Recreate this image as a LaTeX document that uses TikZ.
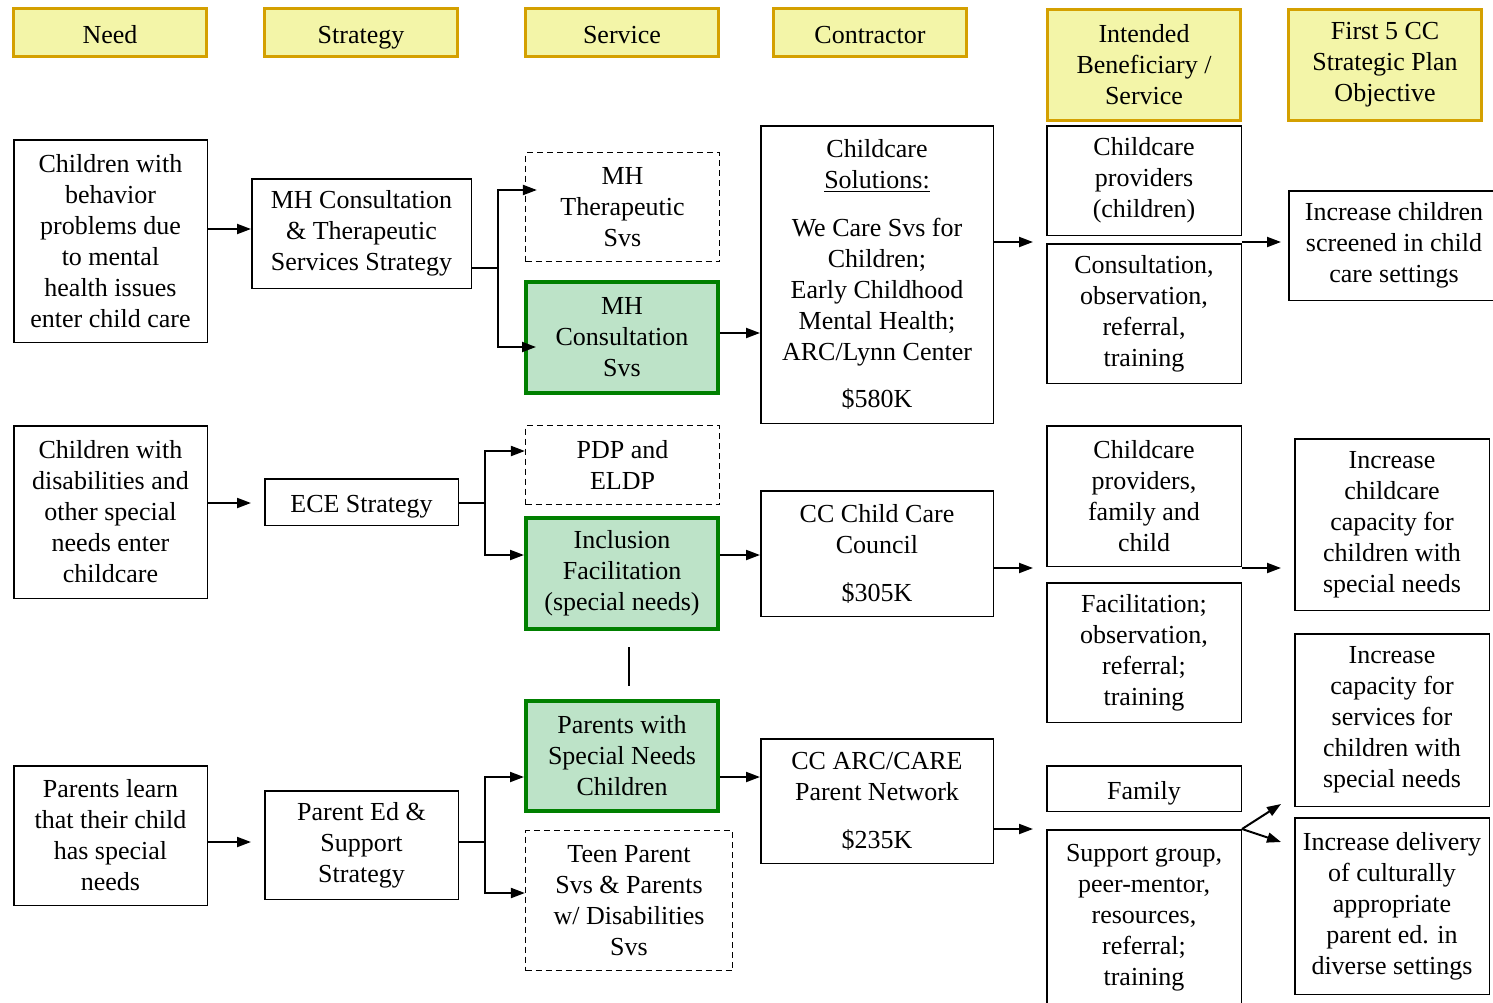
\documentclass[tikz,border=0pt]{standalone}
\usepackage{fontspec}
\setmainfont{Liberation Serif}
\usetikzlibrary{arrows.meta}

\definecolor{headfill}{RGB}{243,245,168}
\definecolor{headline}{RGB}{212,160,0}
\definecolor{svcfill}{RGB}{189,227,200}
\definecolor{svcline}{RGB}{0,128,0}
\newcommand{\boxfont}{\fontsize{13}{15.5}\selectfont}

\tikzset{
  base/.style={align=center, inner sep=0pt, font=\boxfont},
  oneline/.style={text height=10.5pt, text depth=0pt},
  head/.style={base, draw=headline, fill=headfill, line width=1.5pt, minimum width=96.5pt},
  plain/.style={base, draw, line width=0.75pt},
  dashbox/.style={base, draw, line width=0.6pt, dash pattern=on 3pt off 2pt},
  greenbox/.style={base, draw=svcline, fill=svcfill, line width=2pt, minimum width=96pt},
  link/.style={line width=1pt},
  arr/.style={line width=1pt, -{Triangle[length=7pt,width=5pt]}},
}

\begin{document}
\begin{tikzpicture}[x=0.5pt,y=-0.5pt]
\useasboundingbox (0,0) rectangle (1493,1002);

% column headers
\node[head, oneline, minimum height=24pt] (hneed) at (110,32.5) {Need};
\node[head, oneline, minimum height=24pt] (hstrat) at (361,32.5) {Strategy};
\node[head, oneline, minimum height=24pt] (hsvc) at (622,32.5) {Service};
\node[head, oneline, minimum height=24pt] (hcon) at (870,32.5) {Contractor};
\node[head, minimum height=55.5pt] (hben) at (1144,65) {Intended\\Beneficiary /\\Service};
\node[head, minimum height=55.5pt] (hobj) at (1385,65) {First 5 CC\\Strategic Plan\\Objective};

%% row 1: mental health
\node[plain, minimum width=96.75pt, minimum height=101.25pt] (need1) at (110.5,241)
  {Children with\\behavior\\problems due\\to mental\\health issues\\enter child care};
\node[plain, minimum width=109.75pt, minimum height=54.75pt] (strat1) at (361.5,233.5)
  {MH Consultation\\\& Therapeutic\\Services Strategy};
\node[dashbox, minimum width=97pt, minimum height=54.5pt] (svc1a) at (622.5,207)
  {MH\\Therapeutic\\Svs};
\node[greenbox, minimum height=55.5pt] (svc1b) at (622,337.5)
  {MH\\Consultation\\Svs};
\node[plain, minimum width=116.25pt, minimum height=148.75pt] (con1) at (877,274.5)
  {Childcare\\\underline{Solutions:}\\[8.5pt]We Care Svs for\\Children;\\Early Childhood\\Mental Health;\\ARC/Lynn Center\\[8pt]\$580K};
\node[plain, minimum width=97.25pt, minimum height=54.75pt] (ben1a) at (1144,180.5)
  {Childcare\\providers\\(children)};
\node[plain, minimum width=97.25pt, minimum height=69.75pt] (ben1b) at (1144,313.5)
  {Consultation,\\observation,\\referral,\\training};
\node[plain, minimum width=105.25pt, minimum height=54.75pt] (obj1) at (1394,245.5)
  {Increase children\\screened in child\\care settings};

% row 1 connectors
\coordinate (fork1) at (498,268);
\coordinate (ben1in) at (1033,242);
\coordinate (obj1in) at (1281,242);
\draw[arr] (need1.east |- 0,229) -- (strat1.west |- 0,229);
\draw[link] (strat1.east |- fork1) -- (fork1);
\draw[arr, shorten >=-6pt] (fork1) |- (svc1a.west |- 0,190);
\draw[arr, shorten >=-6pt] (fork1) |- (svc1b.west |- 0,347);
\draw[arr] (svc1b.east |- 0,333) -- (con1.west |- 0,333);
\draw[arr] (con1.east |- ben1in) -- (ben1in);
\draw[arr] (ben1a.east |- obj1in) -- (obj1in);

%% row 2: special needs
\node[plain, minimum width=96.75pt, minimum height=86.25pt] (need2) at (110.5,512)
  {Children with\\disabilities and\\other special\\needs enter\\childcare};
\node[plain, oneline, minimum width=96.75pt, minimum height=23.25pt] (strat2) at (361.5,502)
  {ECE Strategy};
\node[dashbox, minimum width=97pt, minimum height=39.5pt] (svc2a) at (622.5,465)
  {PDP and\\ELDP};
\node[greenbox, minimum height=55.5pt] (svc2b) at (622,573.5)
  {Inclusion\\Facilitation\\(special needs)};
\node[plain, minimum width=116.25pt, minimum height=62.75pt] (con2) at (877,553.5)
  {CC Child Care\\Council\\[8.5pt]\$305K};
\node[plain, minimum width=97.25pt, minimum height=70.25pt] (ben2a) at (1144,496)
  {Childcare\\providers,\\family and\\child};
\node[plain, minimum width=97.25pt, minimum height=69.75pt] (ben2b) at (1144,652.5)
  {Facilitation;\\observation,\\referral;\\training};
\node[plain, minimum width=97.25pt, minimum height=85.75pt] (obj2) at (1392,524.5)
  {Increase\\childcare\\capacity for\\children with\\special needs};

% row 2 connectors
\coordinate (fork2) at (485,503);
\coordinate (ben2in) at (1033,568);
\coordinate (obj2in) at (1281,568);
\draw[arr, shorten >=6.5pt] (need2.east |- fork2) -- (strat2.west |- fork2);
\draw[link] (strat2.east |- fork2) -- (fork2);
\draw[arr] (fork2) |- (svc2a.west |- 0,451);
\draw[arr] (fork2) |- (svc2b.west |- 0,555);
\draw[arr] (svc2b.east |- 0,555) -- (con2.west |- 0,555);
\draw[arr] (con2.east |- ben2in) -- (ben2in);
\draw[arr] (ben2a.east |- obj2in) -- (obj2in);

% short rule between the service boxes
\draw[line width=0.75pt] (629,647) -- (629,686);

%% row 3: parents
\node[plain, minimum width=96.75pt, minimum height=69.75pt] (need3) at (110.5,835.5)
  {Parents learn\\that their child\\has special\\needs};
\node[plain, minimum width=96.75pt, minimum height=54.25pt] (strat3) at (361.5,845)
  {Parent Ed \&\\Support\\Strategy};
\node[greenbox, minimum height=55pt] (svc3a) at (622,756)
  {Parents with\\Special Needs\\Children};
\node[dashbox, minimum width=103.5pt, minimum height=70pt] (svc3b) at (629,900.5)
  {Teen Parent\\Svs \& Parents\\w/ Disabilities\\Svs};
\node[plain, minimum width=116.25pt, minimum height=62.25pt] (con3) at (877,801)
  {CC ARC/CARE\\Parent Network\\[8.5pt]\$235K};
\node[plain, oneline, minimum width=97.25pt, minimum height=22.75pt] (ben3a) at (1144,788.5)
  {Family};
\node[plain, minimum width=97.25pt, minimum height=87.75pt] (ben3b) at (1144,917.5)
  {Support group,\\peer-mentor,\\resources,\\referral;\\training};
\node[plain, minimum width=97.25pt, minimum height=86.25pt] (obj3) at (1392,720)
  {Increase\\capacity for\\services for\\children with\\special needs};
\node[plain, minimum width=97.25pt, minimum height=88.25pt] (obj4) at (1392,906)
  {Increase delivery\\of culturally\\appropriate\\parent ed. in\\diverse settings};

% row 3 connectors
\coordinate (fork3) at (485,842);
\coordinate (ben3in) at (1033,829);
\coordinate (obj3in) at (1281,804);
\coordinate (obj4in) at (1281,842);
\draw[arr, shorten >=6.5pt] (need3.east |- fork3) -- (strat3.west |- fork3);
\draw[link] (strat3.east |- fork3) -- (fork3);
\draw[arr] (fork3) |- (svc3a.west |- 0,777);
\draw[arr] (fork3) |- (svc3b.west |- 0,893);
\draw[arr] (svc3a.east |- 0,777) -- (con3.west |- 0,777);
\draw[arr] (con3.east |- ben3in) -- (ben3in);
\draw[arr] (ben3b.north east) -- (obj3in);
\draw[arr] (ben3b.north east) -- (obj4in);

\end{tikzpicture}
\end{document}
